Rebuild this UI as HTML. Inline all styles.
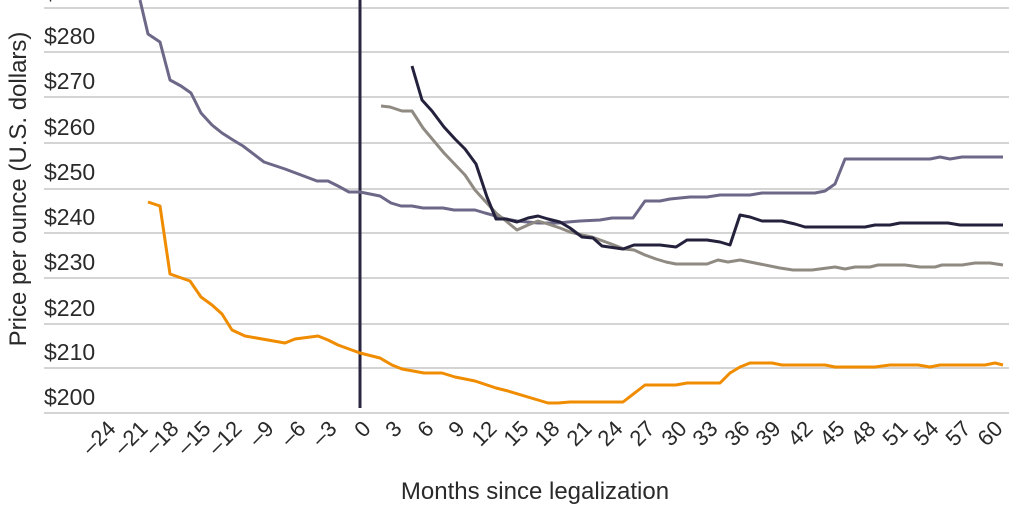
<!DOCTYPE html>
<html><head><meta charset="utf-8"><style>
html,body{margin:0;padding:0;background:#fff;}
svg{display:block;font-family:"Liberation Sans",sans-serif;}
</style></head><body>
<svg width="1024" height="512" viewBox="0 0 1024 512">
<g stroke="#d4d4d4" stroke-width="2">
<line x1="44" y1="8" x2="1009" y2="8"/>
<line x1="44" y1="52" x2="1009" y2="52"/>
<line x1="44" y1="97" x2="1009" y2="97"/>
<line x1="44" y1="143" x2="1009" y2="143"/>
<line x1="44" y1="189" x2="1009" y2="189"/>
<line x1="44" y1="233" x2="1009" y2="233"/>
<line x1="44" y1="278" x2="1009" y2="278"/>
<line x1="44" y1="324" x2="1009" y2="324"/>
<line x1="44" y1="368" x2="1009" y2="368"/>
<line x1="44" y1="413" x2="1009" y2="413"/>
</g>
<g fill="#2a2a2a" font-size="23">
<text x="44" y="44">$280</text>
<text x="44" y="89">$270</text>
<text x="44" y="135">$260</text>
<text x="44" y="180">$250</text>
<text x="44" y="225">$240</text>
<text x="44" y="270">$230</text>
<text x="44" y="316">$220</text>
<text x="44" y="360">$210</text>
<text x="44" y="405">$200</text>
<text x="44" y="0">$290</text>
</g>
<line x1="360" y1="0" x2="360" y2="408" stroke="#2b2640" stroke-width="3"/>
<g fill="none" stroke-width="3" stroke-linejoin="round">
<polyline stroke="#6d6888" points="140,0 148,34 160,42 170,80 181,86 191,93 201,113 212,125 222,133 233,140 243,146 264,162 285,169 317,181 328,181 338,186 349,192 360,192 380,196 391,203 401,206 412,206 423,208 443,208 454,210 475,210 485,213 496,216 506,219 517,221 538,223 558,223 568,222 580,221 600,220 612,218 633,218 645,201 660,201 670,199 690,197 707,197 720,195 750,195 762,193 815,193 825,191 835,184 845,159 930,159 940,157 950,159 962,157 1003,157"/>
<polyline stroke="#8f8a82" points="381,106 390,107 402,111 412,111 423,128 444,153 465,175 475,190 485,201 496,213 506,221 517,230 528,225 538,221 548,224 560,228 570,232 582,235 592,237 603,241 614,245 624,249 634,250 645,255 656,259 666,262 676,264 690,264 707,264 718,260 728,262 740,260 760,264 780,268 793,270 812,270 835,267 845,269 855,267 870,267 878,265 905,265 920,267 935,267 942,265 962,265 975,263 990,263 1003,265"/>
<polyline stroke="#24213d" points="412,66 422,100 432,111 444,127 455,139 465,149 476,164 487,197 496,219 506,219 517,222 528,218 538,216 548,219 560,222 570,228 582,237 593,238 602,246 623,249 634,245 660,245 676,247 687,240 707,240 720,242 730,245 740,215 750,217 762,221 782,221 795,224 805,227 865,227 875,225 890,225 900,223 948,223 960,225 1003,225"/>
<polyline stroke="#f08c00" points="148,202 160,206 170,274 190,281 201,297 212,305 222,314 232,330 245,336 285,343 295,339 318,336 328,340 338,345 360,353 380,358 392,365 402,369 424,373 442,373 455,377 475,381 496,388 508,391 548,403 558,403 570,402 623,402 645,385 676,385 687,383 720,383 730,373 740,367 750,363 772,363 782,365 825,365 835,367 875,367 890,365 918,365 930,367 940,365 985,365 995,363 1003,365"/>
</g>
<g fill="#2a2a2a" font-size="22" text-anchor="end">
<text transform="translate(117,430) rotate(-45)">–24</text>
<text transform="translate(149,430) rotate(-45)">–21</text>
<text transform="translate(180,430) rotate(-45)">–18</text>
<text transform="translate(212,430) rotate(-45)">–15</text>
<text transform="translate(243,430) rotate(-45)">–12</text>
<text transform="translate(275,430) rotate(-45)">–9</text>
<text transform="translate(307,430) rotate(-45)">–6</text>
<text transform="translate(338,430) rotate(-45)">–3</text>
<text transform="translate(372,430) rotate(-45)">0</text>
<text transform="translate(403,430) rotate(-45)">3</text>
<text transform="translate(435,430) rotate(-45)">6</text>
<text transform="translate(466,430) rotate(-45)">9</text>
<text transform="translate(498,430) rotate(-45)">12</text>
<text transform="translate(530,430) rotate(-45)">15</text>
<text transform="translate(561,430) rotate(-45)">18</text>
<text transform="translate(593,430) rotate(-45)">21</text>
<text transform="translate(624,430) rotate(-45)">24</text>
<text transform="translate(656,430) rotate(-45)">27</text>
<text transform="translate(688,430) rotate(-45)">30</text>
<text transform="translate(719,430) rotate(-45)">33</text>
<text transform="translate(751,430) rotate(-45)">36</text>
<text transform="translate(782,430) rotate(-45)">39</text>
<text transform="translate(814,430) rotate(-45)">42</text>
<text transform="translate(846,430) rotate(-45)">45</text>
<text transform="translate(877,430) rotate(-45)">48</text>
<text transform="translate(909,430) rotate(-45)">51</text>
<text transform="translate(940,430) rotate(-45)">54</text>
<text transform="translate(972,430) rotate(-45)">57</text>
<text transform="translate(1004,430) rotate(-45)">60</text>
</g>
<text x="535" y="499" font-size="24" fill="#2a2a2a" text-anchor="middle">Months since legalization</text>
<text transform="translate(26,189) rotate(-90)" font-size="24" fill="#2a2a2a" text-anchor="middle">Price per ounce (U.S. dollars)</text>
</svg>
</body></html>
